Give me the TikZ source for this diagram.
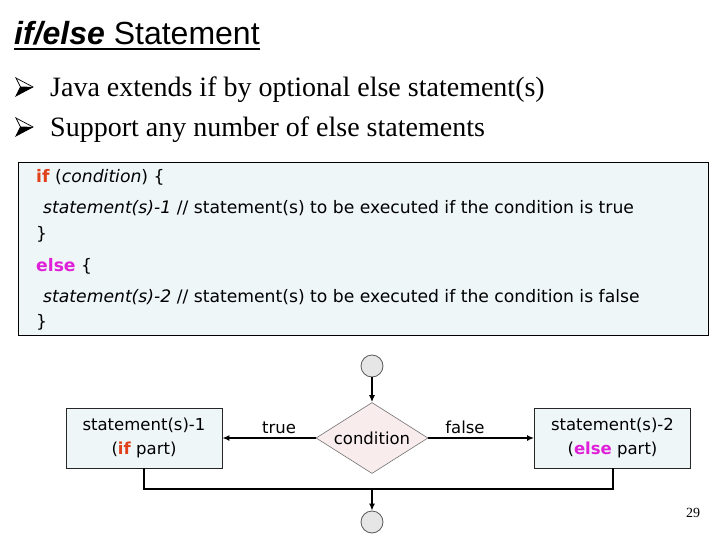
\documentclass[tikz,border=0pt]{standalone}
\usepackage{fontspec}
\setmainfont{Liberation Serif}
\newfontfamily\titlefont{Liberation Sans}
\newfontfamily\codefont{DejaVu Sans}
\usetikzlibrary{shapes.geometric,arrows.meta}
\definecolor{ifred}{HTML}{E0401A}
\definecolor{elsemag}{HTML}{E020D8}
\definecolor{codebg}{HTML}{EEF6F8}
\definecolor{diabg}{HTML}{F8ECEC}
\definecolor{circbg}{HTML}{E6E6E6}
\newcommand{\kwif}{\textcolor{ifred}{\textbf{if}}}
\newcommand{\kwelse}{\textcolor{elsemag}{\textbf{else}}}
\tikzset{
  codeline/.style={anchor=base west, inner sep=0pt, font=\codefont\fontsize{17.2}{20}\selectfont},
  bullet/.style={anchor=base west, inner sep=0pt, font=\fontsize{28}{32}\selectfont},
  stmtbox/.style={draw=black!85, fill=codebg, line width=0.8pt, minimum width=156pt, minimum height=60pt, inner sep=0pt, align=center, font=\codefont\fontsize{16.5}{24}\selectfont},
  decision/.style={diamond, draw=black!55, fill=diabg, line width=0.6pt, minimum width=112pt, minimum height=71pt, shape aspect=1.58, inner sep=0pt, font=\codefont\fontsize{16.5}{20}\selectfont},
  terminal/.style={circle, draw=black!65, fill=circbg, line width=0.8pt, minimum size=22pt, inner sep=0pt},
  flow/.style={line width=2pt, draw=black},
  flowarrow/.style={flow, -{Latex[length=7pt,width=6pt]}},
  lbl/.style={anchor=base, inner sep=0pt, font=\codefont\fontsize{16.5}{20}\selectfont},
  bulletmark/.pic={
    \draw[line width=0.7pt, fill=white, line join=miter] (-17,-9) -- (0,0) -- (-17,9) -- (-12.5,0) -- cycle;
    \fill[black] (-12.5,-0.5) -- (0,0) -- (-17,9) -- cycle;
  }
}
\begin{document}
\begin{tikzpicture}[x=1pt,y=-1pt]
\useasboundingbox[fill=white] (0,0) rectangle (720,540);
% title
\node[anchor=base west, inner sep=0pt, font=\titlefont\fontsize{32}{36}\selectfont] (title) at (14,45) {\textbf{\textit{if/else}} Statement};
\draw[line width=2pt] ([yshift=-4pt]title.base west) -- ([yshift=-4pt]title.base east);
% bullets
\pic at (33,87) {bulletmark};
\pic at (33,127) {bulletmark};
\node[bullet] (b1) at (50,97) {Java extends if by optional else statement(s)};
\node[bullet] (b2) at (50,137) {Support any number of else statements};
% code box
\node[draw=black, fill=codebg, line width=0.8pt, minimum width=690pt, minimum height=173pt, inner sep=0pt, anchor=north west] (codebox) at (18,162) {};
\node[codeline] (c1) at (36,183) {\kwif{} (\textit{condition}) \{};
\node[codeline] (c2) at (43,214) {\textit{statement(s)-1} // statement(s) to be executed if the condition is true};
\node[codeline] (c3) at (36,240) {\}};
\node[codeline] (c4) at (36,271) {\kwelse{} \{};
\node[codeline] (c5) at (43,302) {\textit{statement(s)-2} // statement(s) to be executed if the condition is false};
\node[codeline] (c6) at (36,327) {\}};
% flowchart
\node[terminal] (start) at (372,366) {};
\node[decision] (cond) at (372,438) {condition};
\node[stmtbox] (s1) at (144,438) {statement(s)-1\\(\kwif{} part)};
\node[stmtbox] (s2) at (612.5,438) {statement(s)-2\\(\kwelse{} part)};
\node[terminal] (stop) at (372,522) {};
\coordinate (merge) at (372,489);
\draw[flowarrow] (start) -- (cond.north);
\draw[flowarrow] (cond.west) -- (s1.east);
\draw[flowarrow] (cond.east) -- (s2.west);
\draw[flow] (s1.south) |- (merge) -| (s2.south);
\draw[flowarrow] (merge) -- (stop.north);
\node[lbl] (ltrue) at (279,433) {true};
\node[lbl] (lfalse) at (465,433) {false};
% page number
\node[anchor=base, inner sep=0pt, font=\fontsize{14}{16}\selectfont] (pg) at (693,517) {29};
\end{tikzpicture}
\end{document}
